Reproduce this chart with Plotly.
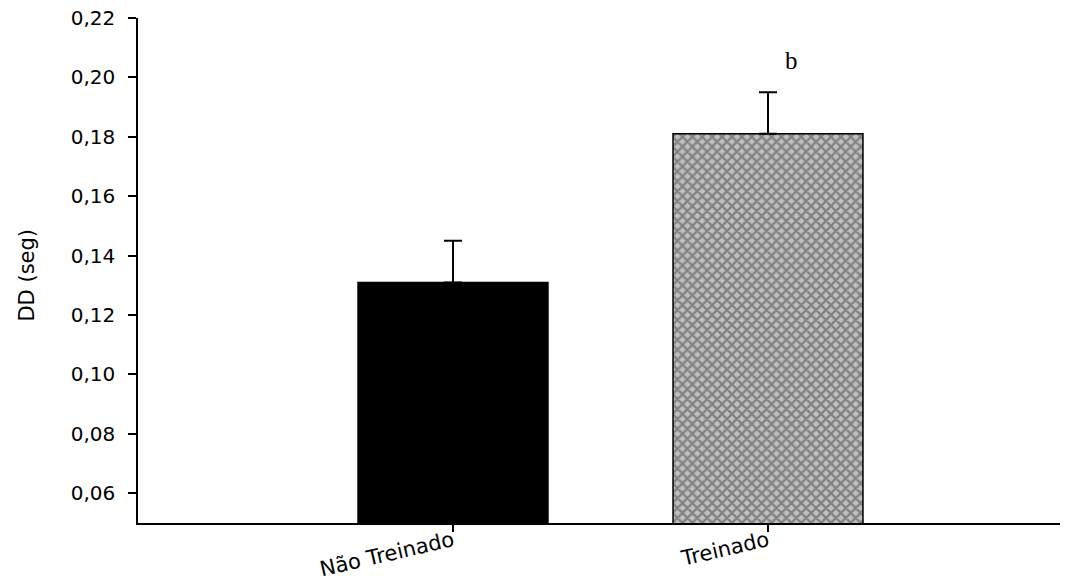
import plotly.graph_objects as go

categories = ["Não Treinado", "Treinado"]
means = [0.131, 0.181]
errors_up = [0.014, 0.014]
annotation_text = ["", "b"]
annotation_y = [None, 0.2058]

fig = go.Figure()
fig.add_trace(go.Bar(
    x=[0, 1],
    y=means,
    width=0.603,
    marker=dict(
        color=["#000000", "#c0c0c0"],
        line=dict(color="#000000", width=1.5),
        pattern=dict(
            shape=["", "x"],
            fgcolor="#000000",
            bgcolor=["#000000", "#c4c4c4"],
            size=7,
            solidity=0.55,
            fillmode="overlay",
        ),
    ),
    error_y=dict(
        type="data",
        symmetric=False,
        array=errors_up,
        arrayminus=[0, 0],
        color="#000000",
        thickness=2,
        width=9,
    ),
    showlegend=False,
))

for i, (t, ya) in enumerate(zip(annotation_text, annotation_y)):
    if t:
        fig.add_annotation(
            x=i + 0.075, y=ya, text=t, showarrow=False,
            font=dict(family="Liberation Serif", size=25, color="#000000"),
        )

L, R, T, B = 138, 15, 18, 65
fig.add_annotation(
    xref="paper", yref="paper",
    x=(27 - L) / (1075 - L - R), y=0.49,
    xanchor="center", yanchor="middle",
    text="DD (seg)", textangle=-90, showarrow=False,
    font=dict(family="DejaVu Sans", size=21, color="#000000"),
)

fig.update_layout(
    width=1075, height=588,
    margin=dict(l=L, r=R, t=T, b=B, autoexpand=False),
    plot_bgcolor="white", paper_bgcolor="white",
    separators=",.",
    font=dict(family="DejaVu Sans", color="#000000", size=18),
)
fig.update_xaxes(
    range=[-1.0, 1.927],
    tickmode="array", tickvals=[0, 1], ticktext=categories,
    tickangle=-13, automargin=False,
    ticks="outside", ticklen=7, tickwidth=1.5, tickcolor="#000000",
    ticklabelstandoff=-11,
    showline=True, linecolor="#000000", linewidth=1.5,
    showgrid=False, zeroline=False,
    tickfont=dict(size=21),
)
fig.update_yaxes(
    range=[0.05, 0.22], automargin=False,
    tickmode="array",
    tickvals=[0.06, 0.08, 0.10, 0.12, 0.14, 0.16, 0.18, 0.20, 0.22],
    tickformat=".2f",
    ticks="outside", ticklen=8, tickwidth=1.5, tickcolor="#000000",
    ticklabelstandoff=9,
    showline=True, linecolor="#000000", linewidth=1.5,
    showgrid=False, zeroline=False,
    tickfont=dict(size=20),
)

fig.write_html(
    "out.html",
    config={"displayModeBar": False},
    post_script="document.body.style.margin='0';document.body.style.overflow='hidden';",
)
